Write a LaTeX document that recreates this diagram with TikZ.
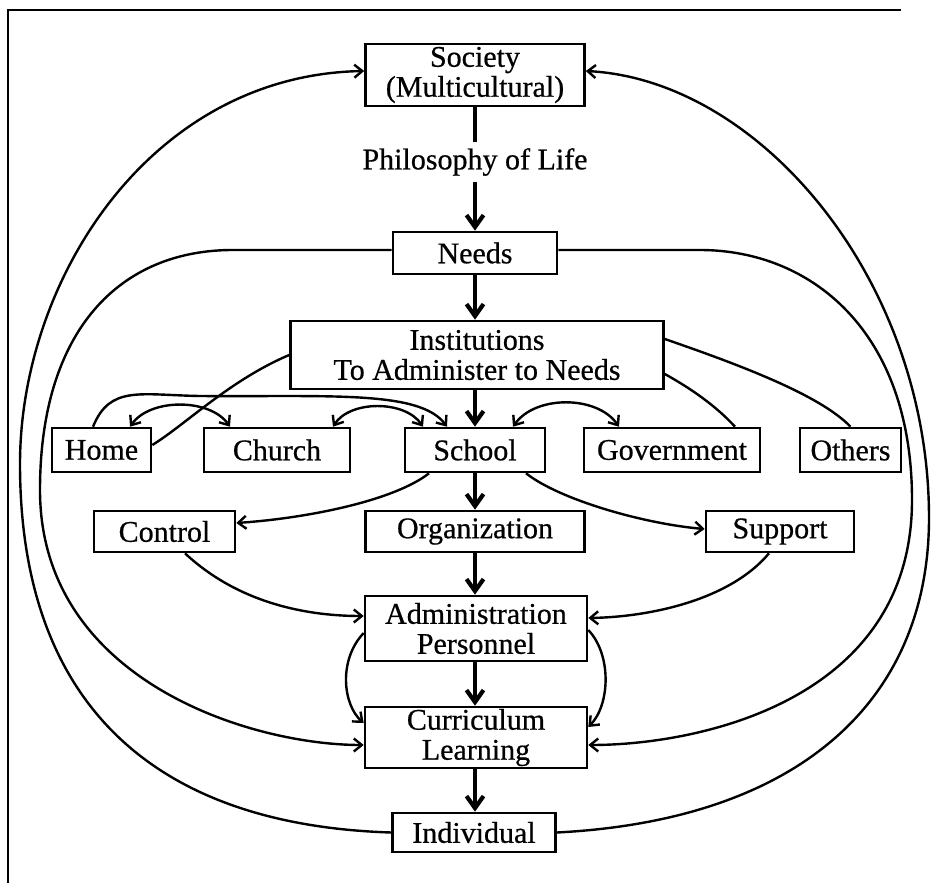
\documentclass[tikz,border=0pt]{standalone}
\usepackage{fontspec}
\setmainfont{Liberation Serif}
\newfontfamily\diagfont[FakeBold=0.6]{Liberation Serif}
\usetikzlibrary{arrows.meta}
\begin{document}
\begin{tikzpicture}[x=1pt,y=-1pt,
  box/.style={draw,line width=2.6pt,inner sep=0pt,align=center,font=\diagfont\fontsize{30}{30}\selectfont},
  lbl/.style={inner sep=6pt,font=\diagfont\fontsize{30}{30}\selectfont},
  conn/.style={line width=2.4pt},
  tipend/.style={conn,-{Straight Barb[length=8pt,width=13pt]}},
  tipboth/.style={conn,{Straight Barb[length=8pt,width=13pt]}-{Straight Barb[length=8pt,width=13pt]}},
  spine/.style={line width=4.2pt},
  spinetip/.style={spine,-{Straight Barb[length=12pt,width=17pt]}}]
\useasboundingbox (0,0) rectangle (942,883);
\fill[white] (0,0) rectangle (942,883);
\draw[line width=1.8pt] (901,10) -- (8,10) -- (8,883);

% nodes
\node[box,minimum width=219,minimum height=62] (soc) at (475,75) {Society\\(Multicultural)};
\node[lbl] (phil) at (475,162) {Philosophy of Life};
\node[box,minimum width=164,minimum height=42] (needs) at (475,253) {Needs};
\node[box,minimum width=373,minimum height=68] (inst) at (477,355) {Institutions\\To Administer to Needs};
\node[box,minimum width=99,minimum height=44] (home) at (101.5,450) {Home};
\node[box,minimum width=146,minimum height=44] (church) at (277,450) {Church};
\node[box,minimum width=140,minimum height=44] (school) at (475,450) {School};
\node[box,minimum width=176,minimum height=44] (gov) at (672,450) {Government};
\node[box,minimum width=101,minimum height=44] (others) at (850.5,450) {Others};
\node[box,minimum width=141,minimum height=41] (control) at (164.5,531.5) {Control};
\node[box,minimum width=219,minimum height=41] (org) at (475,531.5) {Organization};
\node[box,minimum width=148,minimum height=41] (support) at (780,531.5) {Support};
\node[box,minimum width=222,minimum height=65] (admin) at (476,628.5) {Administration\\Personnel};
\node[box,minimum width=222,minimum height=61] (curric) at (476,737.5) {Curriculum\\Learning};
\node[box,minimum width=163,minimum height=39] (indiv) at (474,832.5) {Individual};

% spine
\draw[spine] (soc.south) -- (phil.north);
\draw[spinetip] (phil.south) -- (needs.north);
\draw[spinetip] (needs.south) -- ([xshift=-2pt]inst.north);
\draw[spinetip] ([xshift=-2pt]inst.south) -- (school.north);
\draw[spinetip] (school.south) -- (org.north);
\draw[spinetip] (org.south) -- ([xshift=-1pt]admin.north);
\draw[spinetip] ([xshift=-1pt]admin.south) -- ([xshift=-1pt]curric.north);
\draw[spinetip] ([xshift=-1pt]curric.south) -- ([xshift=1pt]indiv.north);

% outer loops
\draw[tipend] (indiv.west) .. controls (150,825) and (20,700) .. (20,464)
  .. controls (20,280) and (150,75) .. ([yshift=4pt]soc.west);
\draw[tipend] (indiv.east) .. controls (800,820) and (929,700) .. (929,518)
  .. controls (929,280) and (760,80) .. ([yshift=4pt]soc.east);
\draw[tipend] ([yshift=3pt]needs.west) -- (235,250) .. controls (120,249) and (40,330) .. (40,490)
  .. controls (40,680) and (250,745) .. ([yshift=-7.5pt]curric.west);
\draw[tipend] ([yshift=3pt]needs.east) -- (700,250) .. controls (810,250) and (912,330) .. (912,500)
  .. controls (912,700) and (700,745) .. ([yshift=-7.5pt]curric.east);

% institutions lines
\draw[conn] (inst.west) .. controls (230,380) and (185,425) .. ([yshift=5pt]home.east);
\draw[conn] ([yshift=16pt]inst.east) .. controls (740,365) and (820,395) .. (others.north);
\draw[conn] ([yshift=-19pt]inst.east) .. controls (690,388) and (715,405) .. ([xshift=63pt]gov.north);

% arcs between institutions
\draw[tipend] ([xshift=-8.5pt]home.north) .. controls (110,385) and (140,395) .. (200,396)
  .. controls (330,397) and (420,390) .. ([xshift=-28pt]school.north);
\draw[tipboth] ([xshift=28.5pt]home.north) .. controls (150,398) and (210,398) .. ([xshift=-47pt]church.north);
\draw[tipboth] ([xshift=56pt]church.north) .. controls (350,400) and (405,400) .. ([xshift=-52pt]school.north);
\draw[tipboth] ([xshift=38pt]school.north) .. controls (535,395) and (597,395) .. ([xshift=-53pt]gov.north);

% school to control/support
\draw[tipend] ([xshift=-46pt]school.south) .. controls (395,500) and (310,518) .. ([yshift=8.5pt]control.east);
\draw[tipend] ([xshift=51pt]school.south) .. controls (560,500) and (645,524) .. ([yshift=2.5pt]support.west);

% control/support to administration
\draw[tipend] ([xshift=20.5pt]control.south) .. controls (235,600) and (300,616) .. ([yshift=12.5pt]admin.west);
\draw[tipend] ([xshift=-11pt]support.south) .. controls (730,600) and (650,617) .. ([yshift=10.5pt]admin.east);

% administration to curriculum side arcs
\draw[tipend] ([yshift=-4.5pt]admin.west) .. controls (338,660) and (343,705) .. ([yshift=14.5pt]curric.west);
\draw[tipend] ([yshift=-1.5pt]admin.east) .. controls (612,655) and (610,705) .. ([yshift=10.5pt]curric.east);
\end{tikzpicture}
\end{document}
